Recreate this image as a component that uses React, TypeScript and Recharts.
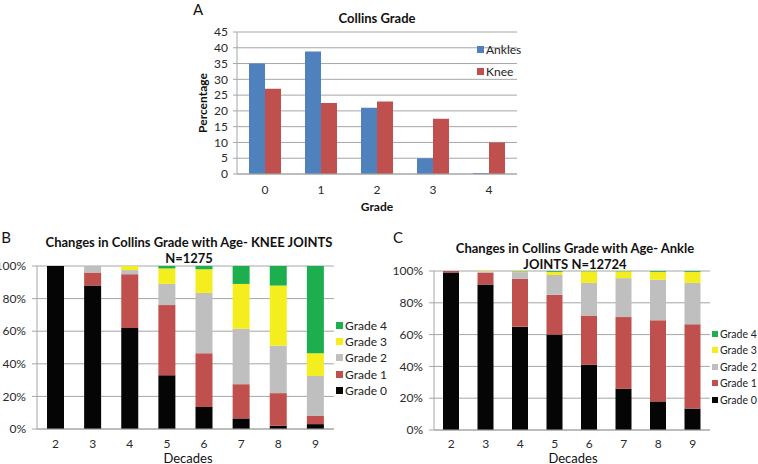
import React from "react";
import { BarChart, Bar, XAxis, YAxis, CartesianGrid } from "recharts";

// Panel A - overall Collins grade distribution
const grades = ["0", "1", "2", "3", "4"];
const anklesPct = [35, 38.8, 21, 5, 0.3];
const kneePct = [27, 22.5, 23, 17.5, 10];

// Panels B and C - grade share by decade
const decades = ["2", "3", "4", "5", "6", "7", "8", "9"];
const kneeG0 = [100, 88, 62, 33, 13.5, 6.5, 2, 3];
const kneeG1 = [0, 8, 33, 43, 33, 21, 20, 5];
const kneeG2 = [0, 4, 2.5, 13, 37, 34, 29, 24.5];
const kneeG3 = [0, 0, 2.5, 9.5, 14.5, 27.5, 37, 14];
const kneeG4 = [0, 0, 0, 1.5, 2, 11, 12, 53.5];

const ankleG0 = [99, 91.5, 65, 60, 41, 26, 18, 13.5];
const ankleG1 = [1, 7.5, 30, 25, 31, 45, 51, 53];
const ankleG2 = [0, 0.7, 4.3, 12.5, 20.5, 24.5, 25.5, 26];
const ankleG3 = [0, 0.3, 0.5, 2, 7.3, 4.3, 5, 7];
const ankleG4 = [0, 0, 0.2, 0.5, 0.2, 0.2, 0.5, 0.5];

const gradeNames = ["Grade 4", "Grade 3", "Grade 2", "Grade 1", "Grade 0"];
const gradeColors = ["#1DAF4E", "#F5EE1E", "#BFBFBF", "#C0504D", "#050505"];

const FONT = "Lato, 'Open Sans', sans-serif";
const GRID = "#A6A6A6";
const TXT = "#2a2a2a";

const overallData = grades.map((g, i) => ({ grade: g, ankles: anklesPct[i], knee: kneePct[i] }));
const kneeData = decades.map((d, i) => ({
  decade: d, g0: kneeG0[i], g1: kneeG1[i], g2: kneeG2[i], g3: kneeG3[i], g4: kneeG4[i],
}));
const ankleData = decades.map((d, i) => ({
  decade: d, g0: ankleG0[i], g1: ankleG1[i], g2: ankleG2[i], g3: ankleG3[i], g4: ankleG4[i],
}));

function Label({ x, y, children, size = 13, bold = false, rotate = 0 }: any) {
  return (
    <div
      style={{
        position: "absolute", left: x, top: y, fontSize: size, fontWeight: bold ? 700 : 400,
        color: "#111", whiteSpace: "nowrap", lineHeight: 1,
        transform: `translate(-50%, -50%) rotate(${rotate}deg)`,
      }}
    >
      {children}
    </div>
  );
}

function LegendRow({ x, y, sq, color, name, size = 12 }: any) {
  return (
    <div style={{ position: "absolute", left: x, top: y - 7, width: 60, height: 14, lineHeight: "14px", fontSize: size, color: "#222", whiteSpace: "nowrap" }}>
      <span style={{ display: "inline-block", width: sq, height: sq, background: color, marginRight: 2, verticalAlign: "middle" }} />
      <span style={{ verticalAlign: "middle" }}>{name}</span>
    </div>
  );
}

function GradeLegend({ x, ys, sq, size }: { x: number; ys: number[]; sq: number; size: number }) {
  return (
    <>
      {gradeNames.map((name, i) => (
        <LegendRow key={name} x={x} y={ys[i]} sq={sq} color={gradeColors[i]} name={name} size={size} />
      ))}
    </>
  );
}

function StackedPanel({ data, barSize, margin, xTickMargin = 10 }: any) {
  return (
    <BarChart width={380} height={234} data={data} margin={margin} barCategoryGap={0}>
      <CartesianGrid vertical={false} stroke={GRID} />
      <XAxis dataKey="decade" stroke={GRID} tickSize={0} tickMargin={xTickMargin} height={20}
        tick={{ fill: TXT, fontSize: 12, fontFamily: FONT }} />
      <YAxis domain={[0, 100]} ticks={[0, 20, 40, 60, 80, 100]} tickFormatter={(v: number) => `${v}%`}
        stroke={GRID} tickSize={5} tickMargin={6} width={30} interval={0}
        tick={{ fill: TXT, fontSize: 12, fontFamily: FONT }} />
      <Bar dataKey="g0" stackId="s" fill={gradeColors[4]} barSize={barSize} isAnimationActive={false} />
      <Bar dataKey="g1" stackId="s" fill={gradeColors[3]} barSize={barSize} isAnimationActive={false} />
      <Bar dataKey="g2" stackId="s" fill={gradeColors[2]} barSize={barSize} isAnimationActive={false} />
      <Bar dataKey="g3" stackId="s" fill={gradeColors[1]} barSize={barSize} isAnimationActive={false} />
      <Bar dataKey="g4" stackId="s" fill={gradeColors[0]} barSize={barSize} isAnimationActive={false} />
    </BarChart>
  );
}

export default function App() {
  return (
    <div style={{ position: "absolute", left: 0, top: 0, width: 758, height: 464, background: "#fff", fontFamily: FONT, overflow: "hidden" }}>
      {/* Panel A */}
      <div style={{ position: "absolute", left: 180, top: 0 }}>
        <BarChart width={360} height={215} data={overallData} margin={{ top: 32, right: 23, bottom: 11, left: 27 }}
          barGap={0} barCategoryGap={12}>
          <CartesianGrid vertical={false} stroke={GRID} />
          <XAxis dataKey="grade" stroke={GRID} tickSize={0} tickMargin={11} height={30}
            tick={{ fill: TXT, fontSize: 12, fontFamily: FONT }} />
          <YAxis domain={[0, 45]} ticks={[0, 5, 10, 15, 20, 25, 30, 35, 40, 45]} interval={0}
            stroke={GRID} tickSize={4} tickMargin={5} width={30}
            tick={{ fill: TXT, fontSize: 12, fontFamily: FONT }} />
          <Bar dataKey="ankles" fill="#4F81BD" barSize={16} isAnimationActive={false} />
          <Bar dataKey="knee" fill="#C0504D" barSize={16} isAnimationActive={false} />
        </BarChart>
      </div>
      <Label x={198} y={9} size={15}>A</Label>
      <Label x={377} y={18} bold>Collins Grade</Label>
      <Label x={377} y={207} size={12} bold>Grade</Label>
      <Label x={203} y={103} size={12} bold rotate={-90}>Percentage</Label>
      <LegendRow x={477} y={49} sq={7} color="#4F81BD" name="Ankles" />
      <LegendRow x={477} y={71} sq={7} color="#C0504D" name="Knee" />

      {/* Panel B */}
      <div style={{ position: "absolute", left: 0, top: 230 }}>
        <StackedPanel data={kneeData} barSize={17} margin={{ top: 36, right: 46, bottom: 15, left: 7 }} />
      </div>
      <Label x={6} y={237} size={15}>B</Label>
      <Label x={189} y={242} bold>Changes in Collins Grade with Age- KNEE JOINTS</Label>
      <Label x={189} y={258} bold>N=1275</Label>
      <Label x={188} y={458}>Decades</Label>
      <GradeLegend x={336} ys={[325, 341, 357, 374, 390]} sq={7} size={12} />

      {/* Panel C */}
      <div style={{ position: "absolute", left: 380, top: 230 }}>
        <StackedPanel data={ankleData} barSize={16} margin={{ top: 41, right: 50, bottom: 14, left: 24 }} xTickMargin={9} />
      </div>
      <Label x={398} y={237} size={15}>C</Label>
      <Label x={575} y={248} bold>Changes in Collins Grade with Age- Ankle</Label>
      <Label x={575} y={264} bold>JOINTS N=12724</Label>
      <Label x={573} y={458}>Decades</Label>
      <GradeLegend x={712} ys={[333, 349, 366, 382, 399]} sq={6} size={10.5} />
    </div>
  );
}
